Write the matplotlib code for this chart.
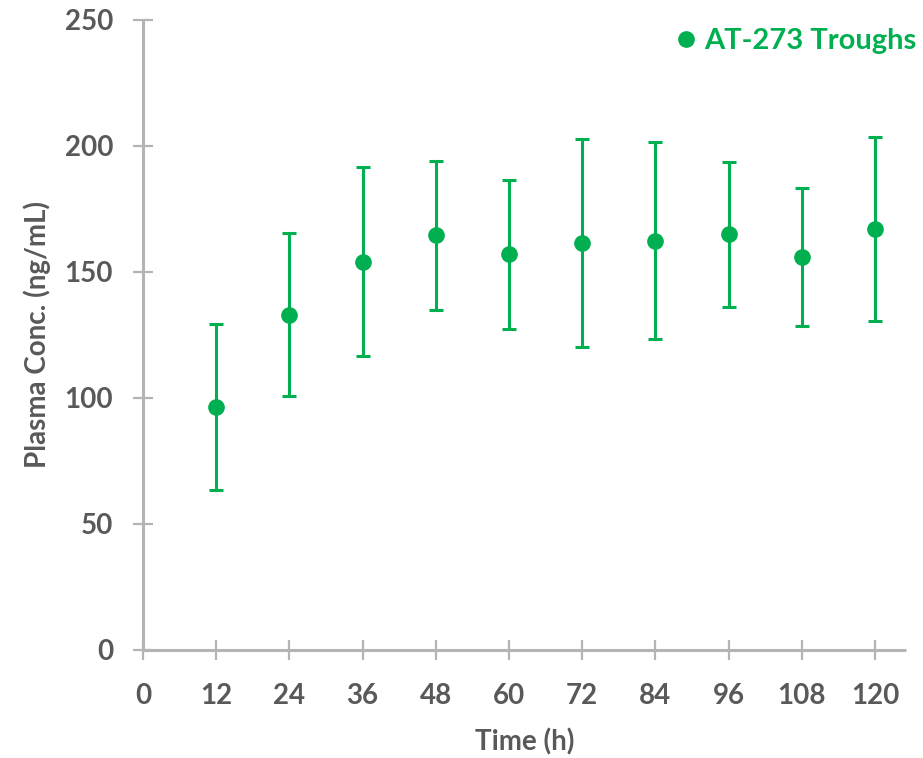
import matplotlib

matplotlib.use("Agg")
import matplotlib.pyplot as plt  # noqa: E402
from matplotlib.lines import Line2D  # noqa: E402

# AT-273 trough concentrations (mean +/- SD)
time_h = [12, 24, 36, 48, 60, 72, 84, 96, 108, 120]
conc_mean = [96.3, 133.0, 154.0, 164.5, 157.0, 161.5, 162.5, 165.0, 156.0, 167.0]
conc_sd = [33.0, 32.3, 37.5, 29.5, 29.5, 41.2, 39.0, 28.8, 27.3, 36.4]
x_ticks = [0, 12, 24, 36, 48, 60, 72, 84, 96, 108, 120]
y_ticks = [0, 50, 100, 150, 200, 250]
series_label = "AT-273 Troughs"

GREEN = "#00B050"
GREY_TXT = "#595959"
GREY_AX = "#B4B4B4"

plt.rcParams["font.family"] = ["Lato", "DejaVu Sans"]
plt.rcParams["font.weight"] = "bold"

fig = plt.figure(figsize=(9.23, 7.58), dpi=100)
ax = fig.add_axes([143 / 923, 108 / 758, 763 / 923, 630 / 758])

ax.errorbar(
    time_h, conc_mean, yerr=conc_sd,
    fmt="o", color=GREEN, markersize=11, elinewidth=2.2,
    capsize=5, capthick=2.2, zorder=3,
)

ax.set_xlim(0, 125.1)
ax.set_ylim(0, 250)
ax.set_xticks(x_ticks)
ax.set_yticks(y_ticks)

for side in ("top", "right"):
    ax.spines[side].set_visible(False)
for side in ("left", "bottom"):
    ax.spines[side].set_color(GREY_AX)
    ax.spines[side].set_linewidth(2.2)
    ax.spines[side].set_capstyle("butt")

ax.tick_params(axis="both", direction="inout", length=15, width=1.6,
               color=GREY_AX, labelcolor=GREY_TXT, labelsize=20)
ax.tick_params(axis="x", pad=16)
ax.tick_params(axis="y", pad=14)
for lbl in ax.get_xticklabels() + ax.get_yticklabels():
    lbl.set_fontweight("bold")

ax.set_xlabel("Time (h)", fontsize=20, fontweight="bold", color=GREY_TXT, labelpad=14)
ax.set_ylabel("Plasma Conc. (ng/mL)", fontsize=20, fontweight="bold", color=GREY_TXT, labelpad=10)

handle = Line2D([], [], marker="o", linestyle="", color=GREEN, markersize=11)
ax.legend(
    handles=[handle], labels=[series_label],
    loc="upper right", bbox_to_anchor=(916 / 923, 1 - 28 / 758),
    bbox_transform=fig.transFigure, frameon=False, handletextpad=0.2,
    handlelength=0.8, borderaxespad=0, borderpad=0,
    prop={"size": 21, "weight": "bold"}, labelcolor=GREEN,
)

fig.savefig("out.png", dpi=100)
